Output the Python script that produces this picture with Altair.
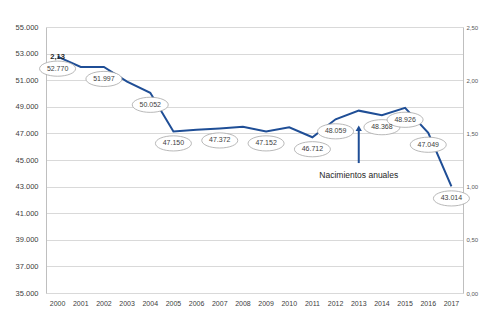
import altair as alt
import pandas as pd

years = [str(y) for y in range(2000, 2018)]
births = [52770, 52000, 51997, 50900, 50052, 47150, 47280, 47372, 47500,
          47152, 47460, 46712, 48059, 48710, 48368, 48926, 47049, 43014]
labeled_years = ["2000", "2002", "2004", "2005", "2007", "2009", "2011",
                 "2012", "2014", "2015", "2016", "2017"]
left_ticks = list(range(35000, 55001, 2000))
right_ticks = [0, 0.5, 1.0, 1.5, 2.0, 2.5]
rate_year = ["2000"]
rate_value = [2.13]
rate_text = ["2,13"]
annot_year = ["2013"]
annot_text = ["Nacimientos anuales"]
annot_text_y = [43870]
arrow_y = [44770]
arrow_y2 = [47250]
arrowhead_y = [47380]

BLUE = "#1f4e96"
FONT = "Liberation Sans"

df = pd.DataFrame({"year": years, "births": births})
df["label"] = [f"{v:,}".replace(",", ".") for v in births]
df_lab = df[df["year"].isin(labeled_years)]

xenc = alt.X("year:O", title=None,
             scale=alt.Scale(paddingInner=0, paddingOuter=0),
             axis=alt.Axis(labelAngle=0, ticks=False, domainColor="#d9d9d9",
                           labelFontSize=7, labelPadding=6, labelColor="#404040",
                           labelFont=FONT, labelOverlap=False))
yscale = alt.Scale(domain=[35000, 55000], nice=False, zero=False)
yaxis = alt.Axis(values=left_ticks, tickCount=len(left_ticks), title=None, ticks=False,
                 domainColor="#bfbfbf", gridColor="#d9d9d9", labelFontSize=7.5,
                 labelPadding=8, labelColor="#404040", labelFont=FONT,
                 labelOverlap=False,
                 labelExpr="replace(format(datum.value, ','), ',', '.')")

base = alt.Chart(df)
line = base.mark_line(color=BLUE, strokeWidth=2).encode(
    x=xenc, y=alt.Y("births:Q", scale=yscale, axis=yaxis))

ellipse_path = "M -1 0 A 1 0.42 0 1 1 1 0 A 1 0.42 0 1 1 -1 0 Z"
ell = alt.Chart(df_lab).mark_point(
    shape=ellipse_path, filled=True, fill="white", stroke="#a6a6a6",
    strokeWidth=0.8, size=1296, opacity=1, yOffset=12).encode(
    x=alt.X("year:O"), y=alt.Y("births:Q"))
txt = alt.Chart(df_lab).mark_text(
    fontSize=7, color="#404040", font=FONT, yOffset=12, baseline="middle").encode(
    x=alt.X("year:O"), y=alt.Y("births:Q"), text="label:N")

adf = pd.DataFrame({"year": annot_year, "text": annot_text, "ty": annot_text_y,
                    "y1": arrow_y, "y2": arrow_y2, "ah": arrowhead_y})
arrow = alt.Chart(adf).mark_rule(color=BLUE, strokeWidth=2).encode(
    x=alt.X("year:O"), y=alt.Y("y1:Q"), y2="y2:Q")
head = alt.Chart(adf).mark_point(shape="triangle-up", filled=True, color=BLUE,
                                 size=40, opacity=1).encode(
    x=alt.X("year:O"), y=alt.Y("ah:Q"))
atext = alt.Chart(adf).mark_text(fontSize=8.5, color="#262626", font=FONT).encode(
    x=alt.X("year:O"), y=alt.Y("ty:Q"), text="text:N")

left = alt.layer(line, ell, txt, arrow, head, atext)

rdf = pd.DataFrame({"year": rate_year, "rate": rate_value, "text": rate_text})
right = alt.Chart(rdf).mark_text(fontSize=7.5, fontWeight="bold", color="#262626",
                                 font=FONT, dy=-9).encode(
    x=alt.X("year:O"),
    y=alt.Y("rate:Q", scale=alt.Scale(domain=[0, 2.5], nice=False),
            axis=alt.Axis(orient="right", values=right_ticks,
                          tickCount=len(right_ticks), title=None, grid=False,
                          ticks=False, domainColor="#bfbfbf", labelFontSize=6,
                          labelPadding=3, labelColor="#595959", labelFont=FONT,
                          labelOverlap=False,
                          labelExpr="replace(format(datum.value, '.2f'), '.', ',')")),
    text="text:N")

chart = alt.layer(left, right).resolve_scale(y="independent").properties(
    width=417, height=266,
    autosize=alt.AutoSizeParams(type="none"),
    padding={"left": 46, "top": 27, "right": 38, "bottom": 28},
    background="white",
).configure_view(stroke=None)

chart.save("out.html", embed_options={"renderer": "svg", "actions": False})
